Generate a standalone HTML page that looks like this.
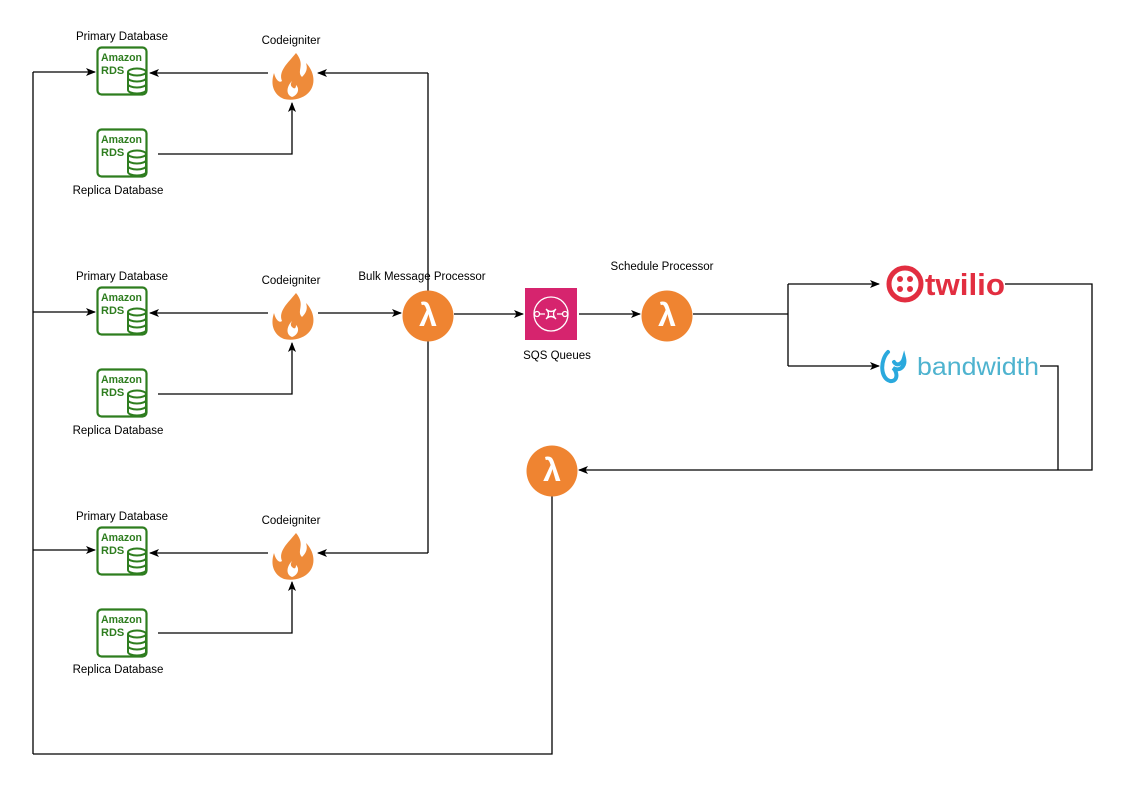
<!DOCTYPE html>
<html><head><style>
html,body{margin:0;padding:0;background:#fff;}
svg text{font-family:"Liberation Sans",sans-serif;}
</style></head><body>
<svg width="1126" height="789" viewBox="0 0 1126 789" xmlns="http://www.w3.org/2000/svg">
<defs>
<marker id="a" markerWidth="10" markerHeight="8" refX="9" refY="4" orient="auto" markerUnits="userSpaceOnUse">
<path d="M0,0 L10,4 L0,8 L2.5,4 z" fill="#000"/>
</marker>
<g id="rds">
<rect x="1.5" y="1.5" width="49" height="47" rx="4" fill="none" stroke="#2e7d1f" stroke-width="2.2"/>
<text x="5" y="15" font-size="11" font-weight="bold" fill="#2e7d1f" textLength="41" lengthAdjust="spacingAndGlyphs">Amazon</text>
<text x="5" y="28" font-size="11" font-weight="bold" fill="#2e7d1f">RDS</text>
<g fill="#fff" stroke="#2e7d1f" stroke-width="2">
<path d="M32,26 v18 a9,3.5 0 0 0 18,0 v-18"/>
<ellipse cx="41" cy="26" rx="9" ry="3.5"/>
<path d="M32,32 a9,3.5 0 0 0 18,0 M32,38 a9,3.5 0 0 0 18,0" fill="none"/>
</g>
</g>
<g id="flame">
<path d="M4,-24 C14,-12 4,-6 10,0 C14,-4 16,-8 14,-14 C22,-6 24,6 18,14 C12,22 0,24 -8,22 C-18,18 -22,8 -18,-4 C-16,4 -12,6 -10,4 C-14,-6 -4,-14 4,-24 z" fill="#ee8b3a"/>
<path d="M0,4 C-6,10 -6,18 0,20 C6,18 8,12 4,8 C4,12 2,12 0,10 C-2,8 -1,6 0,4 z" fill="#fff"/>
</g>
<g id="lam">
<circle r="25.5" fill="#ef8431"/>
<text x="0" y="10" text-anchor="middle" font-size="32" font-weight="bold" fill="#fff" font-family="DejaVu Sans,sans-serif">λ</text>
</g>
</defs>

<g stroke="#000" stroke-width="1.3" fill="none">
<path d="M33,754 V72"/>
<path d="M33,72 H95" marker-end="url(#a)"/>
<path d="M33,312 H95" marker-end="url(#a)"/>
<path d="M33,550 H95" marker-end="url(#a)"/>
<path d="M268,73 H150" marker-end="url(#a)"/>
<path d="M268,313 H150" marker-end="url(#a)"/>
<path d="M268,553 H150" marker-end="url(#a)"/>
<path d="M158,154 H292 V103" marker-end="url(#a)"/>
<path d="M158,394 H292 V343" marker-end="url(#a)"/>
<path d="M158,633 H292 V582" marker-end="url(#a)"/>
<path d="M428,73 V553"/>
<path d="M428,73 H318" marker-end="url(#a)"/>
<path d="M428,553 H318" marker-end="url(#a)"/>
<path d="M318,313 H401" marker-end="url(#a)"/>
<path d="M454,314 H523" marker-end="url(#a)"/>
<path d="M579,314 H640" marker-end="url(#a)"/>
<path d="M693,314 H788 M788,284 V366"/>
<path d="M788,284 H879" marker-end="url(#a)"/>
<path d="M788,366 H879" marker-end="url(#a)"/>
<path d="M1005,284 H1092 V470 H579" marker-end="url(#a)"/>
<path d="M1040,366 H1058 V470"/>
<path d="M552,496 V754 H33"/>
</g>

<g font-size="11.5" fill="#000" text-anchor="middle">
<text x="122" y="40">Primary Database</text>
<text x="118" y="194">Replica Database</text>
<text x="291" y="44">Codeigniter</text>
<text x="122" y="280">Primary Database</text>
<text x="118" y="434">Replica Database</text>
<text x="291" y="284">Codeigniter</text>
<text x="122" y="520">Primary Database</text>
<text x="118" y="673">Replica Database</text>
<text x="291" y="524">Codeigniter</text>
<text x="422" y="280">Bulk Message Processor</text>
<text x="557" y="359">SQS Queues</text>
<text x="662" y="270">Schedule Processor</text>
</g>
<use href="#rds" x="96" y="46"/>
<use href="#rds" x="96" y="128"/>
<use href="#rds" x="96" y="286"/>
<use href="#rds" x="96" y="368"/>
<use href="#rds" x="96" y="526"/>
<use href="#rds" x="96" y="608"/>
<use href="#flame" x="292" y="77"/>
<use href="#flame" x="292" y="317"/>
<use href="#flame" x="292" y="557"/>
<use href="#lam" x="428" y="316"/>
<use href="#lam" x="667" y="316"/>
<use href="#lam" x="552" y="471"/>

<rect x="525" y="288" width="52" height="52" fill="#d6246e"/>
<circle cx="551" cy="314" r="17" fill="none" stroke="#fff" stroke-width="1.3"/>
<g stroke="#fff" stroke-width="1.3" fill="none">
<circle cx="537" cy="314" r="2.5"/><circle cx="565" cy="314" r="2.5"/>
<path d="M540,314 h5 M557,314 h5 M546,309 q5,5 10,0 q-5,5 0,10 q-5,-5 -10,0 q5,-5 0,-10z"/>
</g>

<circle cx="905" cy="284" r="16" fill="none" stroke="#e22e40" stroke-width="5"/>
<circle cx="900" cy="279" r="3" fill="#e22e40"/><circle cx="910" cy="279" r="3" fill="#e22e40"/>
<circle cx="900" cy="289" r="3" fill="#e22e40"/><circle cx="910" cy="289" r="3" fill="#e22e40"/>
<text x="925" y="295" font-size="31" font-weight="bold" fill="#e22e40" textLength="80" lengthAdjust="spacingAndGlyphs">twilio</text>

<path d="M888,352 C880,360 880,378 890,381 C898,382 898,372 893,368 C900,372 906,366 904,358 C902,365 896,366 894,362" fill="none" stroke="#2aa9dd" stroke-width="4" stroke-linecap="round"/>
<text x="917" y="375" font-size="25" fill="#4eb3cf" textLength="122" lengthAdjust="spacingAndGlyphs">bandwidth</text>
</svg>
</body></html>
